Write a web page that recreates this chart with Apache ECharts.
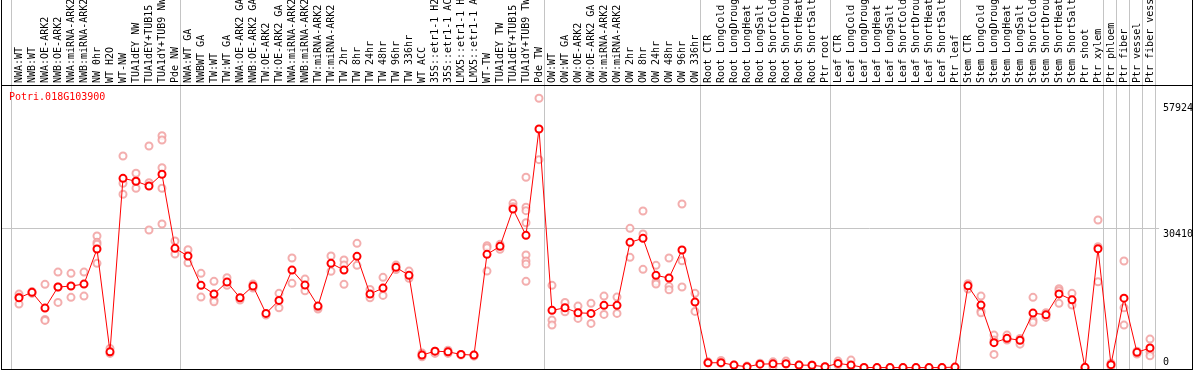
<!DOCTYPE html>
<html><head><meta charset="utf-8">
<script src="https://cdn.jsdelivr.net/npm/echarts@6/dist/echarts.min.js"></script>
<style>html,body{margin:0;padding:0;background:#fff}#c{width:1194px;height:370px}</style>
</head><body><div id="c"></div>
<script>
const chartTitle = 'Potri.018G103900';
const categories = [
 'NWA:WT','NWB:WT','NWA:OE-ARK2','NWB:OE-ARK2','NWA:miRNA-ARK2','NWB:miRNA-ARK2','NW 0hr','WT H2O','WT-NW','TUA1dEY NW','TUA1dEY+TUB15 NW','TUA1dY+TUB9 NW','Pde NW',
 'NWA:WT GA','NWBWT GA','TW:WT','TW:WT GA','NWA:OE-ARK2 GA','NWB:OE-ARK2 GA','TW:OE-ARK2','TW:OE-ARK2 GA','NWA:miRNA-ARK2 GA','NWB:miRNA-ARK2 GA','TW:miRNA-ARK2','TW:miRNA-ARK2 GA',
 'TW 2hr','TW 8hr','TW 24hr','TW 48hr','TW 96hr','TW 336hr','WT ACC','35S::etr1-1 H2O','35S::etr1-1 ACC','LMX5::etr1-1 H2O','LMX5::etr1-1 ACC','WT-TW','TUA1dEY TW','TUA1dEY+TUB15 TW','TUA1dY+TUB9 TW','Pde TW',
 'OW:WT','OW:WT GA','OW:OE-ARK2','OW:OE-ARK2 GA','OW:miRNA-ARK2','OW:miRNA-ARK2 GA','OW 2hr','OW 8hr','OW 24hr','OW 48hr','OW 96hr','OW 336hr',
 'Root CTR','Root LongCold','Root LongDrought','Root LongHeat','Root LongSalt','Root ShortCold','Root ShortDrought','Root ShortHeat','Root ShortSalt','Ptr root',
 'Leaf CTR','Leaf LongCold','Leaf LongDrought','Leaf LongHeat','Leaf LongSalt','Leaf ShortCold','Leaf ShortDrought','Leaf ShortHeat','Leaf ShortSalt','Ptr leaf',
 'Stem CTR','Stem LongCold','Stem LongDrought','Stem LongHeat','Stem LongSalt','Stem ShortCold','Stem ShortDrought','Stem ShortHeat','Stem ShortSalt','Ptr shoot','Ptr xylem',
 'Ptr phloem','Ptr fiber','Ptr vessel','Ptr fiber vessel'
];
const meanValues = [
 15250,16430,13000,17590,17810,18240,25890,3450,41330,40680,39650,42210,26040,
 24360,17960,16060,18680,15250,17810,11840,14680,21300,18020,13440,22760,21300,24290,16060,17370,21890,20140,2730,3600,3450,2880,2730,24730,26480,34630,28880,52100,
 12500,13060,11970,11840,13590,13600,27350,28230,20140,19550,25670,14310,
 1050,1080,550,180,760,830,850,550,530,180,
 920,550,40,10,10,10,10,10,10,120,
 17850,13650,5450,6400,5970,11900,11530,16100,14800,60,25950,
 650,15170,3330,4300
];
const replicateValues = [
 [16060,15400,13870],[16600,16200],[18180,10530,10310],[20860,17590,14240],[20580,15340],[20860,15620],
 [28730,27350,26920,22760],[4190,3100],[46210,40240,37840],[42430,40680,39150],[48390,40370,30040],
 [50640,49700,43650,39150,31350],[27640,24800],
 [25740,22900],[20580,15400],[18830,14750,14380],[19620,17960],[15120,14750],[18240,17370],[11470],
 [16210,13060],[23920,18400],[19330,16780],[12780,13220],[24360,21020],[23490,22390,18180],[27130,22330],
 [17080,15250],[19710,15770],[22390,21400],[21080,19490],[2360,3170],[3100,3600],[3820,3100],[2880,2730],
 [2730,2500],[26610,26170,21080],[26920,25820],[35870,35130],[41550,35000,34260,31630,24580,23270,22610,18830],
 [58810,45400],
 [17960,10380,9290],[14240,12190],[13440,10750],[14030,9660],[15620,11620],[15400,11840],[30410,24080],
 [34190,29170,21450],[22330,18740,18240],[23920,17740,17000],[35720,23330,17590],[16210,12280],
 [1270,1050],[1570,980],[550],[330],[980],[1270,180],[1420,760],[550],[550],[180],
 [1420,550],[1640,330],[0],[0],[0],[0],[0],[0],[0],[0],
 [18310,17150],[15620,12340,11970],[7100,6010,2880],[7100,6010],[6380,5130],[15340,10380,9880],
 [11970,10970],[17220,16780,14030],[16210,13650],[0],[32220,26390,18740],
 [980,330],[23270,13060,9290],[3600,2950],[6230,3450,2580]
];
const yTickLabels = [57924, 30410];
const yZeroLabel = [0];
const groupEnds = [-1, 12, 40, 52, 62, 72, 83, 84, 85, 86, 87];
const refLineValue = 30410;

const FONT = '"DejaVu Sans Mono", "Liberation Mono", monospace';
const X_MIN = -1.3846, X_MAX = 90.2308;
const Y_MIN = -300, Y_MAX = 61700;

const meanData = meanValues.map((v, i) => [i, v]);
const repData = [];
replicateValues.forEach((arr, i) => arr.forEach(v => repData.push([i, v])));
const sepData = groupEnds.map(i => [i + 0.385, 0]);

const chart = echarts.init(document.getElementById('c'), null, {renderer: 'canvas'});
const yBase = {
  type: 'value', min: Y_MIN, max: Y_MAX, position: 'right',
  axisLine: {show: false}, axisTick: {show: false}, splitLine: {show: false}
};
chart.setOption({
  animation: false,
  backgroundColor: '#fff',
  title: {text: chartTitle, left: 9, top: 92, padding: 0,
    textStyle: {color: '#ff0000', fontSize: 10, fontWeight: 'normal', fontFamily: FONT}},
  grid: {left: 1, right: 2, top: 85, bottom: 1, show: false, containLabel: false, outerBoundsMode: 'none'},
  xAxis: {
    type: 'value', position: 'top', min: X_MIN, max: X_MAX,
    axisLine: {show: false}, axisTick: {show: false}, splitLine: {show: false},
    axisLabel: {
      customValues: categories.map((c, i) => i),
      formatter: v => categories[Math.round(v)] || '',
      rotate: 90, margin: 2, fontSize: 10, fontFamily: FONT, color: '#000',
      hideOverlap: false
    }
  },
  yAxis: [
    Object.assign({}, yBase, {axisLabel: {customValues: yTickLabels, inside: true, margin: 29, align: 'left',
      verticalAlign: 'top', padding: [1, 0, 0, 0], fontSize: 10, fontFamily: FONT, color: '#000', formatter: v => String(v)}}),
    Object.assign({}, yBase, {axisLabel: {customValues: yZeroLabel, inside: true, margin: 29, align: 'left',
      verticalAlign: 'bottom', fontSize: 10, fontFamily: FONT, color: '#000', formatter: v => String(v)}})
  ],
  graphic: [
    {type: 'line', shape: {x1: 1.5, y1: 0, x2: 1.5, y2: 370}, style: {stroke: '#000', lineWidth: 1}, z: 100},
    {type: 'line', shape: {x1: 1192.5, y1: 0, x2: 1192.5, y2: 370}, style: {stroke: '#000', lineWidth: 1}, z: 100},
    {type: 'line', shape: {x1: 1, y1: 85.5, x2: 1193, y2: 85.5}, style: {stroke: '#000', lineWidth: 1}, z: 100},
    {type: 'line', shape: {x1: 1, y1: 369.5, x2: 1193, y2: 369.5}, style: {stroke: '#000', lineWidth: 1}, z: 100}
  ],
  series: [
    {
      type: 'custom', silent: true, clip: false, z: 1,
      data: sepData,
      encode: {x: 0, y: 1},
      renderItem: (params, api) => {
        const x = Math.round(api.coord([api.value(0), 0])[0]) + 0.5;
        const cs = params.coordSys;
        return {type: 'line', shape: {x1: x, y1: 0, x2: x, y2: cs.y + cs.height},
          style: {stroke: '#c4c4c4', lineWidth: 1}};
      }
    },
    {
      type: 'custom', silent: true, clip: false, z: 1,
      data: [[87.7, refLineValue]],
      encode: {x: 0, y: 1},
      renderItem: (params, api) => {
        const p = api.coord([api.value(0), api.value(1)]);
        const y = Math.round(p[1]) + 0.5;
        const cs = params.coordSys;
        return {type: 'line', shape: {x1: cs.x, y1: y, x2: p[0], y2: y},
          style: {stroke: '#c4c4c4', lineWidth: 1}};
      }
    },
    {
      type: 'scatter', data: repData, symbol: 'emptyCircle', symbolSize: 7, z: 2,
      itemStyle: {color: '#f09a9a', borderColor: '#f09a9a', borderWidth: 1.2}
    },
    {
      type: 'line', data: meanData, symbol: 'emptyCircle', symbolSize: 7, z: 3,
      lineStyle: {color: '#ff0000', width: 1},
      itemStyle: {color: '#ff0000', borderColor: '#ff0000', borderWidth: 1.3}
    }
  ]
});
</script>
</body></html>
